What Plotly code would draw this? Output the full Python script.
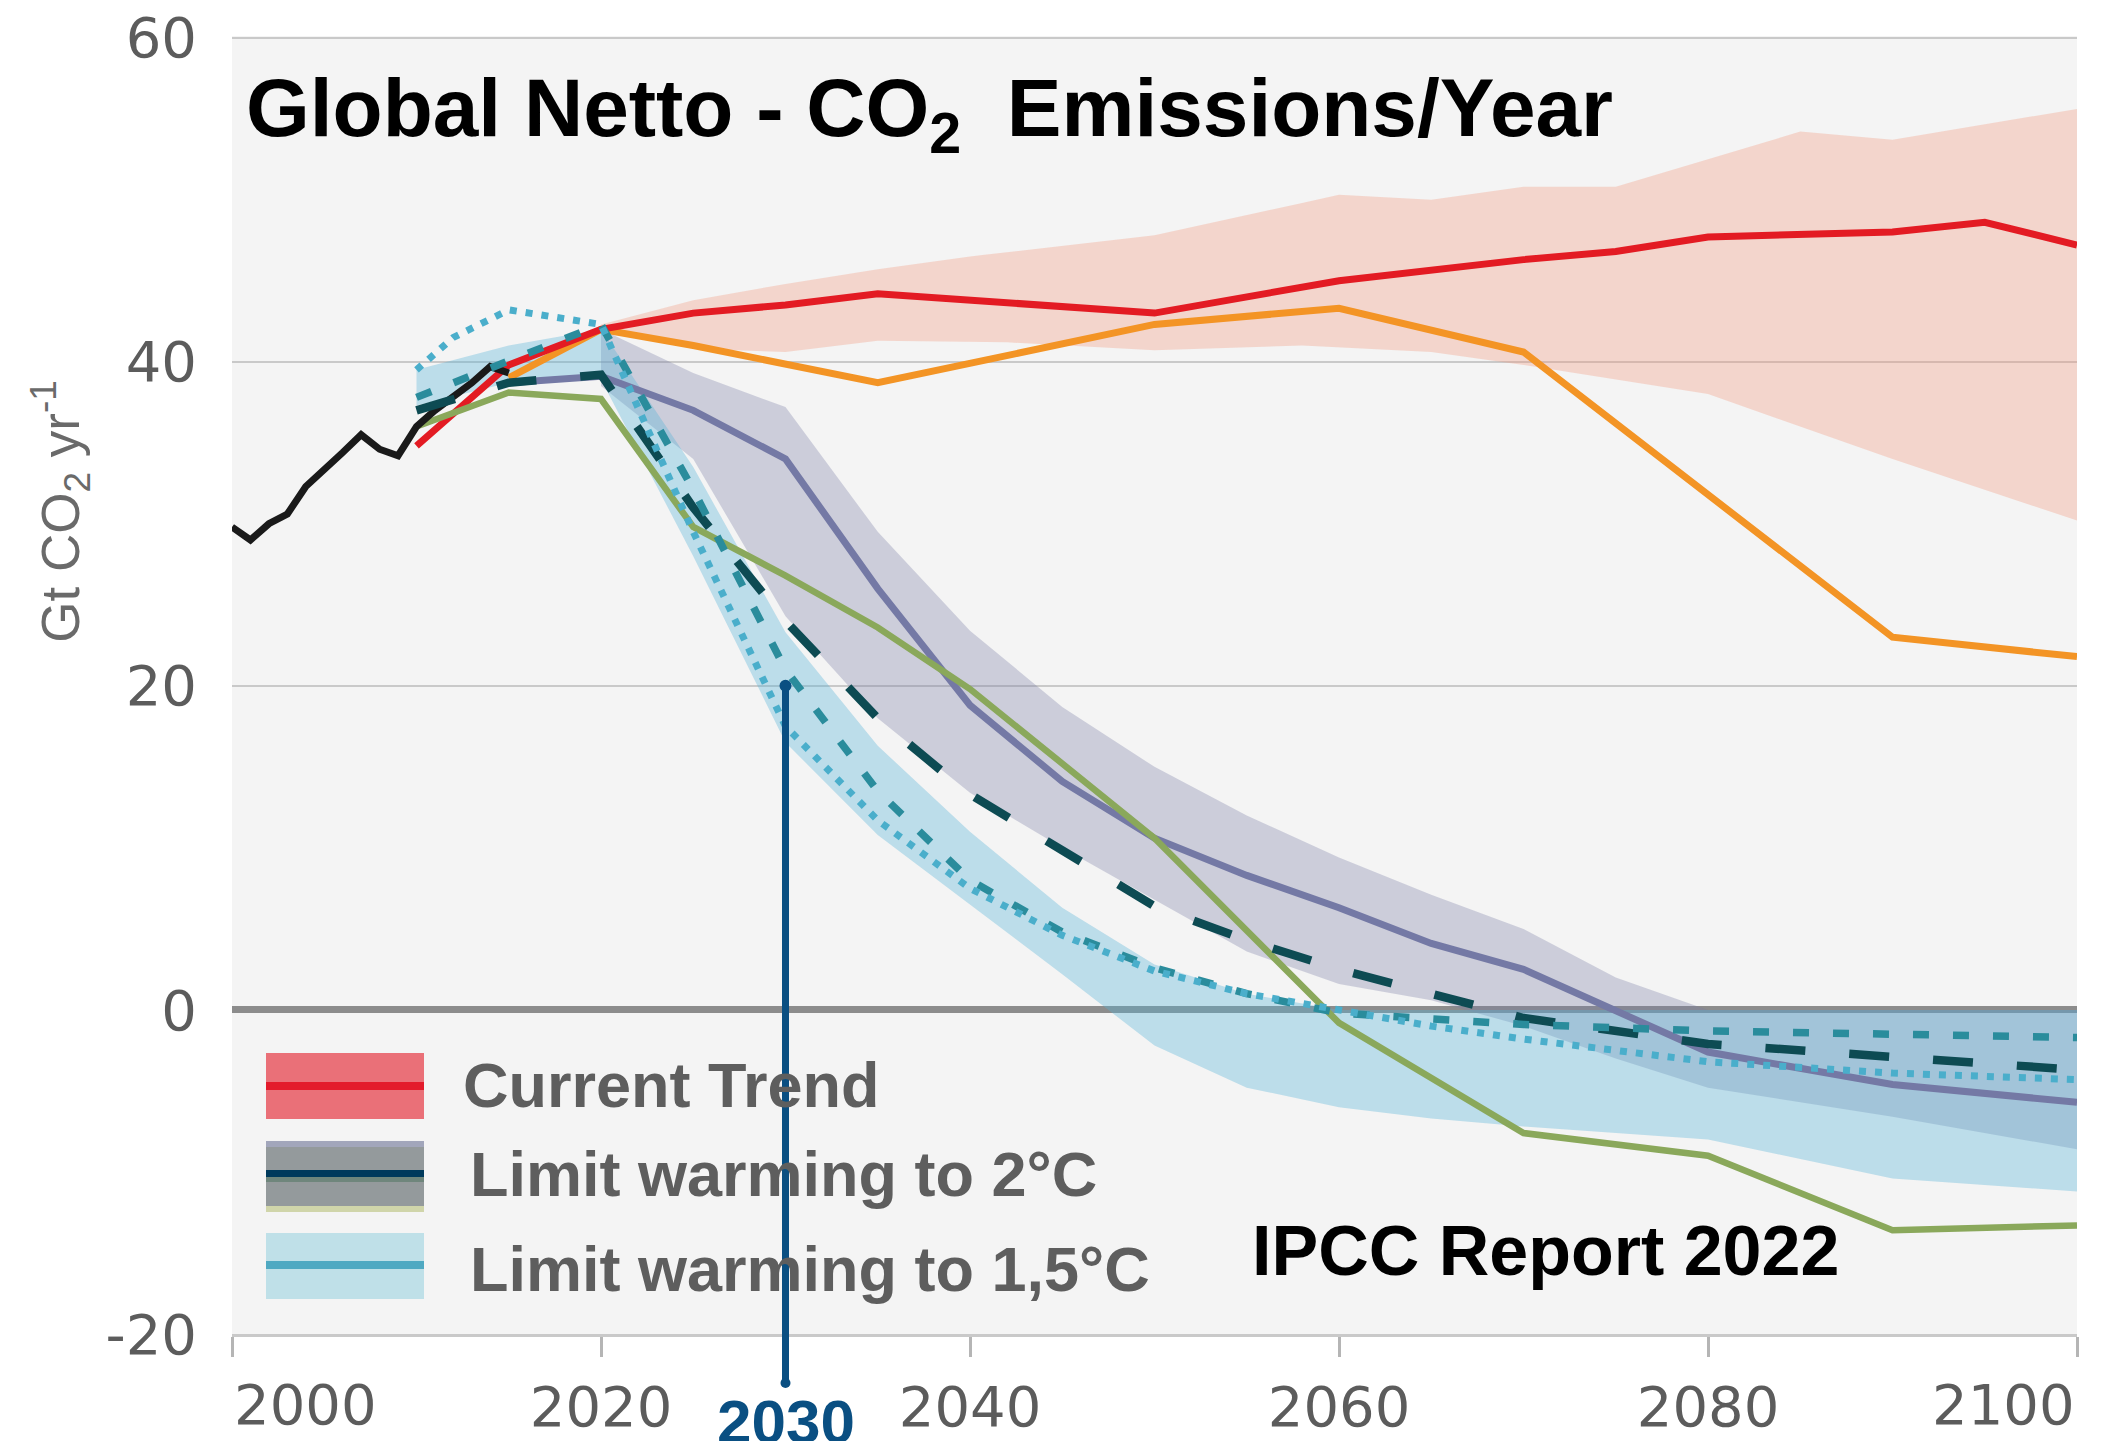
import plotly.graph_objects as go

# ---------------- data ----------------
hist_years = list(range(2000, 2016))
hist_values = [29.8, 29.0, 30.0, 30.6, 32.3, 33.3, 34.4, 35.5, 34.6, 34.2,
               36.0, 37.0, 37.8, 38.7, 39.7, 39.3]

trend_years = [2010, 2015, 2020, 2025, 2030, 2035, 2050, 2060, 2070, 2075, 2080, 2090, 2095, 2100]
trend_values = [34.8, 39.8, 42.0, 43.0, 43.5, 44.2, 43.0, 45.0, 46.3, 46.8, 47.7, 48.0, 48.6, 47.2]

trend_band_upper_years = [2020, 2025, 2030, 2035, 2040, 2050, 2058, 2060, 2065, 2070, 2075, 2085, 2090, 2100]
trend_band_upper = [42.3, 43.8, 44.8, 45.7, 46.5, 47.8, 49.8, 50.3, 50.0, 50.8, 50.8, 54.2, 53.7, 55.6]
trend_band_lower_years = [2020, 2025, 2030, 2035, 2042, 2050, 2058, 2065, 2070, 2080, 2090, 2100]
trend_band_lower = [42.0, 40.8, 40.6, 41.3, 41.2, 40.7, 41.0, 40.6, 39.8, 38.0, 34.0, 30.2]

moderate_years = [2015, 2020, 2025, 2035, 2050, 2060, 2070, 2090, 2100]
moderate_values = [39.0, 42.0, 41.0, 38.7, 42.3, 43.3, 40.6, 23.0, 21.8]

c2_years = [2015, 2020, 2025, 2030, 2035, 2040, 2045, 2050, 2055, 2060, 2065, 2070, 2080, 2090, 2100]
c2_median = [38.7, 39.1, 37.0, 34.0, 26.0, 18.8, 14.1, 10.6, 8.3, 6.3, 4.1, 2.5, -2.6, -4.6, -5.7]

c2_band_years = [2020, 2025, 2030, 2035, 2040, 2045, 2050, 2055, 2060, 2065, 2070, 2075, 2080, 2090, 2100]
c2_band_upper = [42.0, 39.3, 37.2, 29.5, 23.4, 18.7, 15.0, 12.0, 9.4, 7.1, 5.0, 2.0, 0.0, 0.0, 0.0]
c2_band_lower = [38.5, 34.0, 24.3, 18.0, 13.4, 10.0, 6.8, 3.6, 1.6, 0.6, -1.0, -3.0, -4.8, -6.6, -8.6]

c15_band_years = [2010, 2015, 2020, 2025, 2030, 2035, 2040, 2045, 2050, 2055, 2060, 2065, 2070, 2080, 2090, 2100]
c15_band_upper = [39.5, 41.0, 42.0, 33.5, 23.3, 16.3, 11.0, 6.3, 2.8, 1.0, 0.0, 0.0, 0.0, 0.0, 0.0, 0.0]
c15_band_lower = [37.3, 38.7, 38.9, 28.0, 16.5, 10.8, 6.5, 2.2, -2.2, -4.8, -6.0, -6.7, -7.2, -8.0, -10.4, -11.2]

green_years = [2010, 2015, 2020, 2025, 2030, 2035, 2040, 2050, 2060, 2070, 2080, 2090, 2100]
green_values = [36.0, 38.1, 37.7, 29.8, 26.8, 23.6, 19.8, 10.6, -0.8, -7.6, -9.0, -13.6, -13.3]

dash_years = [2010, 2015, 2020, 2025, 2030, 2035, 2040, 2045, 2050, 2055, 2060, 2065, 2070, 2080, 2090, 2100]
dash_values = [37.0, 38.7, 39.2, 31.0, 24.0, 18.0, 13.3, 9.8, 6.4, 4.3, 2.5, 1.0, -0.5, -2.1, -2.9, -3.7]

teal_years = [2010, 2015, 2020, 2025, 2030, 2035, 2040, 2045, 2050, 2055, 2060, 2070, 2080, 2090, 2100]
teal_values = [37.8, 40.1, 42.3, 32.1, 21.0, 13.5, 8.0, 4.8, 2.6, 1.0, -0.2, -0.9, -1.3, -1.5, -1.7]

dot_years = [2010, 2012, 2015, 2020, 2025, 2030, 2035, 2040, 2045, 2050, 2055, 2060, 2065, 2070, 2080, 2090, 2100]
dot_values = [39.5, 41.5, 43.2, 42.3, 29.5, 17.5, 11.7, 7.5, 4.6, 2.4, 1.0, 0.0, -1.0, -1.8, -3.2, -3.9, -4.3]

x_ticks = [2000, 2020, 2040, 2060, 2080, 2100]
y_ticks = [-20, 0, 20, 40, 60]

legend_labels = ["Current Trend", "Limit warming to 2°C", "Limit warming to 1,5°C"]
highlight_year = 2030
highlight_value = 20

# ---------------- layout geometry (pixels, in page coordinates) ----------------
W, H = 2117, 1441
OFF = 8  # the page body margin offsets the figure by 8px
Y_MIN, Y_MAX = -20, 60.1
L, R, T, B = 232, 2077, 36.4, 1334


def fx(px):
    return (px - L) / (R - L)


def fy(py):
    return (B - py) / (B - T)


fig = go.Figure()


def band(xu, yu, xl, yl, color):
    fig.add_trace(go.Scatter(x=list(xu) + list(xl)[::-1], y=list(yu) + list(yl)[::-1],
                             fill="toself", fillcolor=color, mode="lines",
                             line=dict(width=0), hoverinfo="skip", showlegend=False))


band(trend_band_upper_years, trend_band_upper, trend_band_lower_years, trend_band_lower,
     "rgba(242,150,120,0.32)")
band(c2_band_years, c2_band_upper, c2_band_years, c2_band_lower, "rgba(120,124,165,0.32)")
band(c15_band_years, c15_band_upper, c15_band_years, c15_band_lower, "rgba(90,180,215,0.36)")


def line(x, y, color, width, dash="solid"):
    fig.add_trace(go.Scatter(x=x, y=y, mode="lines", showlegend=False,
                             line=dict(color=color, width=width, dash=dash)))


line(moderate_years, moderate_values, "#f39425", 7)
line(trend_years, trend_values, "#e31b23", 7)
line(c2_years, c2_median, "#7479a5", 7)
line(green_years, green_values, "#8aa85b", 6.5)
line(hist_years, hist_values, "#1a1a1a", 7)
line(dash_years, dash_values, "#0d4b53", 8.5, "40px,44px")
line(teal_years, teal_values, "#2a8c9c", 7.5, "16px,24px")
line(dot_years, dot_values, "#4aaecb", 7, "7px,9px")

shapes = []
annotations = []


# legend swatches
def rect(y0, y1, color, x0=266, x1=424):
    shapes.append(dict(type="rect", xref="paper", yref="paper", x0=fx(x0), x1=fx(x1),
                       y0=fy(y1), y1=fy(y0), fillcolor=color, line=dict(width=0), layer="above"))


rect(1053, 1119, "#ea7078")
rect(1082, 1090, "#e31b2b")
rect(1141, 1212, "#949a9c")
rect(1141, 1147, "#a2a6bb")
rect(1170, 1177, "#003a5c")
rect(1177, 1182, "#6f867c")
rect(1206, 1212, "#d0d5aa")
rect(1233, 1299, "#bfe0e8")
rect(1261, 1269, "#4fa9c2")

legend_pos = [(461, 1085), (468, 1174), (468, 1269)]
for lab, (lx, ly) in zip(legend_labels, legend_pos):
    annotations.append(dict(text="<b>" + lab + "</b>", xref="paper", yref="paper",
                            x=fx(lx), y=fy(ly), xanchor="left", yanchor="middle", showarrow=False,
                            font=dict(family="Liberation Sans, Arial, sans-serif", size=63, color="#5e5e5e")))

# title and source
annotations.append(dict(text="<b>Global Netto - CO<sub>2</sub>\u00a0 Emissions/Year</b>",
                        xref="paper", yref="paper", x=fx(244), y=fy(114),
                        xanchor="left", yanchor="middle", showarrow=False,
                        font=dict(family="Liberation Sans, Arial, sans-serif", size=82, color="#000000")))
annotations.append(dict(text="<b>IPCC Report 2022</b>", xref="paper", yref="paper",
                        x=fx(1250), y=fy(1251), xanchor="left", yanchor="middle", showarrow=False,
                        font=dict(family="Liberation Sans, Arial, sans-serif", size=70, color="#000000")))

# y axis title
annotations.append(dict(text="Gt CO<sub>2</sub> yr<sup>-1</sup>", xref="paper", yref="paper",
                        x=fx(60), y=fy(512), textangle=-90, showarrow=False,
                        xanchor="center", yanchor="middle",
                        font=dict(family="Liberation Sans Narrow, Arial Narrow, Liberation Sans, sans-serif",
                                  size=53, color="#6a6a6a")))

# end x tick labels (aligned inward)
tick_font = dict(family="DejaVu Sans, sans-serif", size=56, color="#5c5c5c")
annotations.append(dict(text=str(x_ticks[0]), xref="x", yref="paper", x=x_ticks[0], y=fy(1404),
                        xanchor="left", yanchor="middle", showarrow=False, font=tick_font))
annotations.append(dict(text=str(x_ticks[-1]), xref="x", yref="paper", x=x_ticks[-1], y=fy(1404),
                        xanchor="right", yanchor="middle", showarrow=False, font=tick_font))

# 2030 marker
mark_color = "#0a4f82"
shapes.append(dict(type="line", xref="x", yref="paper", x0=highlight_year, x1=highlight_year,
                   y0=fy(1383), y1=fy(690), line=dict(color=mark_color, width=7), layer="above"))
shapes.append(dict(type="circle", xref="x", yref="y", xsizemode="pixel", ysizemode="pixel",
                   xanchor=highlight_year, yanchor=highlight_value, x0=-6, x1=6, y0=-6, y1=6,
                   fillcolor=mark_color, line=dict(width=0), layer="above"))
shapes.append(dict(type="circle", xref="x", yref="paper", xsizemode="pixel", ysizemode="pixel",
                   xanchor=highlight_year, yanchor=fy(1383), x0=-5, x1=5, y0=-5, y1=5,
                   fillcolor=mark_color, line=dict(width=0), layer="above"))
annotations.append(dict(text="<b>" + str(highlight_year) + "</b>", xref="x", yref="paper",
                        x=highlight_year, y=fy(1421), xanchor="center", yanchor="middle",
                        showarrow=False,
                        font=dict(family="Liberation Sans, Arial, sans-serif", size=62, color=mark_color)))

fig.update_layout(
    width=W, height=H,
    margin=dict(l=L - OFF, r=W - R + OFF, t=T - OFF, b=H - B + OFF, pad=0, autoexpand=False),
    paper_bgcolor="#ffffff", plot_bgcolor="#f4f4f4",
    showlegend=False,
    shapes=shapes, annotations=annotations,
    xaxis=dict(range=[2000, 2100], tickvals=x_ticks,
               ticktext=[""] + [str(v) for v in x_ticks[1:-1]] + [""],
               showgrid=False, zeroline=False, automargin=False,
               showline=True, linecolor="#c9c9c9", linewidth=3,
               ticks="outside", ticklen=20, tickwidth=2.5, tickcolor="#b5b5b5",
               tickfont=tick_font, ticklabelstandoff=2, ticklabeloverflow="allow"),
    yaxis=dict(range=[Y_MIN, Y_MAX], tickvals=y_ticks, ticktext=[str(v) for v in y_ticks],
               showgrid=True, gridcolor="#c9c9c9", gridwidth=2, automargin=False,
               zeroline=True, zerolinecolor="#8c8c8c", zerolinewidth=7,
               ticks="", tickfont=tick_font, ticklabelstandoff=34, ticklabeloverflow="allow"),
)

fig.write_html("out.html")
